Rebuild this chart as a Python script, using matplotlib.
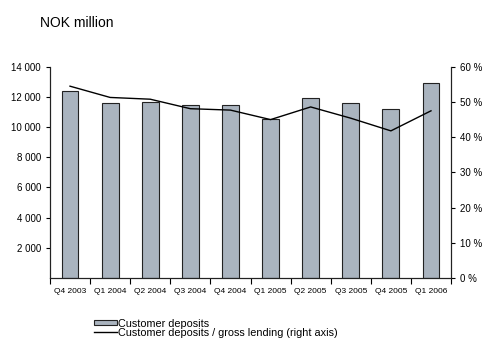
import matplotlib
matplotlib.use("Agg")
import matplotlib.pyplot as plt
from matplotlib.ticker import FuncFormatter

plt.rcParams['font.family'] = ['Liberation Sans', 'DejaVu Sans']

# Data
quarters = ['Q4 2003', 'Q1 2004', 'Q2 2004', 'Q3 2004', 'Q4 2004',
            'Q1 2005', 'Q2 2005', 'Q3 2005', 'Q4 2005', 'Q1 2006']
deposits = [12400, 11600, 11700, 11500, 11500, 10550, 11950, 11600, 11200, 12950]
ratio = [54.5, 51.3, 50.8, 48.1, 47.7, 45.0, 48.6, 45.4, 41.8, 47.5]

fig = plt.figure(figsize=(4.85, 3.41), dpi=100)
ax = fig.add_axes([0.103, 0.185, 0.827, 0.619])
ax2 = ax.twinx()

x = list(range(len(quarters)))
bars = ax.bar(x, deposits, width=0.42, color='#aab4bf', edgecolor='#222222',
              linewidth=0.8, label='Customer deposits')
line, = ax2.plot(x, ratio, color='black', linewidth=1.0,
                 label='Customer deposits / gross lending (right axis)')

ax.set_xlim(-0.5, len(quarters) - 0.5)
ax.set_ylim(0, 14000)
ax2.set_ylim(0, 60)
ax.set_yticks(range(2000, 14001, 2000))
ax.yaxis.set_major_formatter(FuncFormatter(lambda v, p: f'{int(v):,}'.replace(',', ' ')))
ax2.set_yticks(range(0, 61, 10))
ax2.yaxis.set_major_formatter(FuncFormatter(lambda v, p: f'{int(v)} %'))

ax.set_xticks(x)
ax.set_xticklabels(quarters, fontsize=6)
ax.tick_params(axis='x', length=0, pad=7)
ax.set_xticks([i - 0.5 for i in range(len(quarters) + 1)], minor=True)
ax.tick_params(axis='x', which='minor', length=4, width=0.8, direction='out')
ax.tick_params(axis='y', labelsize=7, length=3, width=0.8, direction='out')
ax2.tick_params(axis='y', labelsize=7, length=3, width=0.8, direction='out')

for a in (ax, ax2):
    a.spines['top'].set_visible(False)
    for s in ('left', 'right', 'bottom'):
        a.spines[s].set_linewidth(0.8)
        a.spines[s].set_color('#222222')

fig.text(0.082, 0.922, 'NOK million', fontsize=10, va='baseline')

fig.legend([bars, line], [bars.get_label(), line.get_label()],
           loc='lower left', bbox_to_anchor=(0.178, -0.012), frameon=False,
           fontsize=7.8, handlelength=2.1, handleheight=0.4, handletextpad=0.15,
           labelspacing=-0.1, borderpad=0.2)

fig.savefig('out.png', dpi=100)
